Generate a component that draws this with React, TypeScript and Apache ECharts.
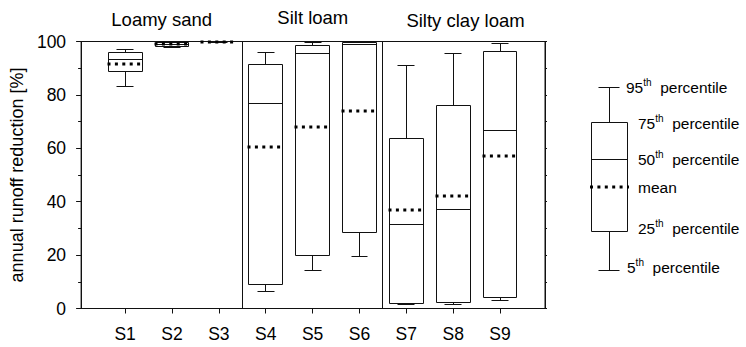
import { useEffect, useRef } from "react";
import * as echarts from "echarts";

// Annual runoff reduction per site, grouped by soil texture
const sites = ["S1", "S2", "S3", "S4", "S5", "S6", "S7", "S8", "S9"];
const p5 = [83.3, 97.9, 99.8, 6.5, 14.1, 19.5, 1.4, 1.6, 2.9];
const p25 = [88.9, 98.3, 99.9, 9.1, 19.7, 28.5, 1.9, 2.4, 4.1];
const p50 = [93.1, 99.0, 100, 76.8, 95.4, 98.8, 31.5, 37.0, 66.5];
const p75 = [95.8, 99.5, 100, 91.5, 98.5, 99.7, 63.7, 75.9, 96.3];
const p95 = [97.0, 100, 100, 95.9, 99.5, 100, 90.9, 95.5, 99.3];
const means = [91.6, 99.0, 99.9, 60.3, 67.8, 73.8, 37.0, 42.1, 57.0];

const soilGroups = ["Loamy sand", "Silt loam", "Silty clay loam"];
const groupDividers = [3.5, 6.5];
const yTicks = [0, 20, 40, 60, 80, 100];

const legendLabels = ["95", "75", "50", "mean", "25", "5"];

const FONT = "'Liberation Sans', Arial, Helvetica, sans-serif";
const INK = "#111";

const crisp = (v: number) => Math.round(v - 0.5) + 0.5;

export default function App() {
  const ref = useRef<HTMLDivElement>(null);

  useEffect(() => {
    if (!ref.current) return;
    const chart = echarts.init(ref.current, undefined, { renderer: "svg" });

    const boxData = sites.map((_, i) => [i + 1, p5[i], p25[i], p50[i], p75[i], p95[i], means[i]]);
    const dividerData = groupDividers.map((x) => [x, yTicks[0], yTicks[yTicks.length - 1]]);

    const thin = { stroke: INK, lineWidth: 1, fill: "none" };
    const dotted = { stroke: "#000", lineWidth: 3, lineDash: [3, 4.4] };

    const renderBox = (_params: any, api: any) => {
      const x = api.value(0);
      const [cx, yLo] = api.coord([x, api.value(1)]);
      const yQ1 = api.coord([x, api.value(2)])[1];
      const yMed = api.coord([x, api.value(3)])[1];
      const yQ3 = api.coord([x, api.value(4)])[1];
      const yHi = api.coord([x, api.value(5)])[1];
      const yMean = api.coord([x, api.value(6)])[1];
      const bw = api.size([0.72, 0])[0];
      const cw = bw / 2;
      const xc = crisp(cx);
      const xl = crisp(cx - bw / 2);
      const xr = crisp(cx + bw / 2);
      return {
        type: "group",
        children: [
          { type: "line", shape: { x1: xc, y1: yQ3, x2: xc, y2: yHi }, style: thin },
          { type: "line", shape: { x1: crisp(cx - cw / 2), y1: crisp(yHi), x2: crisp(cx + cw / 2), y2: crisp(yHi) }, style: thin },
          { type: "line", shape: { x1: xc, y1: yQ1, x2: xc, y2: yLo }, style: thin },
          { type: "line", shape: { x1: crisp(cx - cw / 2), y1: crisp(yLo), x2: crisp(cx + cw / 2), y2: crisp(yLo) }, style: thin },
          { type: "rect", shape: { x: xl, y: crisp(yQ3), width: xr - xl, height: crisp(yQ1) - crisp(yQ3) }, style: { ...thin, fill: "#fff" } },
          { type: "line", shape: { x1: xl, y1: crisp(yMed), x2: xr, y2: crisp(yMed) }, style: thin },
          { type: "line", shape: { x1: xl - 1, y1: Math.round(yMean), x2: xr + 2, y2: Math.round(yMean) }, style: dotted },
        ],
      };
    };

    const renderDivider = (_params: any, api: any) => {
      const x = api.value(0);
      const top = api.coord([x, api.value(2)]);
      const bottom = api.coord([x, api.value(1)]);
      return {
        type: "line",
        shape: { x1: crisp(top[0]), y1: top[1], x2: crisp(bottom[0]), y2: bottom[1] },
        style: thin,
      };
    };

    // schematic key on the right
    const lg = { cx: 609, bw: 36, cw: 21, hi: 87, q3: 122, med: 159, mean: 187, q1: 231, lo: 270 };
    const labelY = [87, 123, 159, 187, 228, 267];
    const labelX = [626, 638, 638, 638, 638, 627];
    const legendText = legendLabels.map((lab, i) => ({
      type: "text",
      x: labelX[i],
      y: labelY[i],
      style: {
        text: lab === "mean" ? "{n|mean}" : `{n|${lab}}{s|th}  {n|percentile}`,
        fill: "#000",
        font: `15.5px ${FONT}`,
        align: "left",
        verticalAlign: "middle",
        textAlign: "left",
        textVerticalAlign: "middle",
        rich: {
          n: { fontSize: 15.5, fontFamily: FONT, lineHeight: 20, fill: "#000" },
          s: { fontSize: 10, fontFamily: FONT, lineHeight: 11, verticalAlign: "top", fill: "#000" },
        },
      },
    }));

    const titleX = [161.7, 312.8, 465.5];
    const titleY = [19, 17.5, 20];
    const titles = soilGroups.map((g, i) => ({
      type: "text",
      x: titleX[i],
      y: titleY[i],
      style: {
        text: g,
        fill: "#000",
        font: `18.5px ${FONT}`,
        align: "center",
        verticalAlign: "middle",
        textAlign: "center",
        textVerticalAlign: "middle",
      },
    }));

    const key = [
      { type: "line", shape: { x1: crisp(lg.cx), y1: lg.hi, x2: crisp(lg.cx), y2: lg.lo }, style: thin },
      { type: "line", shape: { x1: lg.cx - lg.cw / 2, y1: crisp(lg.hi), x2: lg.cx + lg.cw / 2, y2: crisp(lg.hi) }, style: thin },
      { type: "line", shape: { x1: lg.cx - lg.cw / 2, y1: crisp(lg.lo), x2: lg.cx + lg.cw / 2, y2: crisp(lg.lo) }, style: thin },
      { type: "rect", shape: { x: crisp(lg.cx - lg.bw / 2), y: crisp(lg.q3), width: lg.bw, height: lg.q1 - lg.q3 }, style: { ...thin, fill: "#fff" } },
      { type: "line", shape: { x1: crisp(lg.cx - lg.bw / 2), y1: crisp(lg.med), x2: crisp(lg.cx + lg.bw / 2), y2: crisp(lg.med) }, style: thin },
      { type: "line", shape: { x1: lg.cx - lg.bw / 2 - 1, y1: lg.mean, x2: lg.cx + lg.bw / 2 + 2, y2: lg.mean }, style: dotted },
    ];

    chart.setOption({
      animation: false,
      backgroundColor: "#fff",
      textStyle: { fontFamily: FONT, color: "#000" },
      grid: {
        left: 79,
        right: 201,
        top: 41.5,
        bottom: 38.5,
        show: true,
        borderColor: INK,
        borderWidth: 1,
        backgroundColor: "transparent",
      },
      xAxis: {
        type: "value",
        min: 0.06,
        max: 9.96,
        splitLine: { show: false },
        axisLine: { show: true, lineStyle: { color: INK, width: 1 } },
        axisTick: {
          show: true,
          inside: false,
          length: 5,
          lineStyle: { color: INK },
          customValues: sites.map((_, i) => i + 1),
        },
        axisLabel: {
          show: true,
          margin: 16,
          fontSize: 17.5,
          fontFamily: FONT,
          color: "#000",
          customValues: sites.map((_, i) => i + 1),
          formatter: (v: number) => sites[Math.round(v) - 1] ?? "",
        },
      },
      yAxis: [
        {
          type: "value",
          position: "left",
          min: 0,
          max: 100,
          interval: 20,
          name: "annual runoff reduction [%]",
          nameLocation: "middle",
          nameGap: 50,
          nameTextStyle: { fontSize: 18, fontFamily: FONT, color: "#000" },
          splitLine: { show: false },
          axisLine: { show: true, lineStyle: { color: INK, width: 1 } },
          axisTick: { show: true, inside: false, length: 5, lineStyle: { color: INK } },
          minorTick: { show: true, splitNumber: 2, length: 3, lineStyle: { color: INK } },
          axisLabel: { margin: 15, fontSize: 17.5, fontFamily: FONT, color: "#000" },
        },
        {
          type: "value",
          position: "right",
          min: 0,
          max: 100,
          interval: 10,
          splitLine: { show: false },
          axisLine: { show: true, lineStyle: { color: INK, width: 1 } },
          axisTick: { show: true, inside: false, length: 2, lineStyle: { color: INK } },
          axisLabel: { show: false },
        },
      ],
      series: [
        {
          type: "custom",
          name: "dividers",
          renderItem: renderDivider,
          data: dividerData,
          encode: { x: 0, y: [1, 2] },
          silent: true,
          z: 1,
        },
        {
          type: "custom",
          name: "runoff reduction",
          renderItem: renderBox,
          data: boxData,
          encode: { x: 0, y: [1, 2, 3, 4, 5] },
          clip: false,
          z: 2,
        },
      ],
      graphic: [...titles, ...key, ...legendText],
    });

    return () => chart.dispose();
  }, []);

  return (
    <div
      ref={ref}
      style={{ position: "fixed", left: 0, top: 0, width: 746, height: 347, background: "#fff" }}
    />
  );
}
